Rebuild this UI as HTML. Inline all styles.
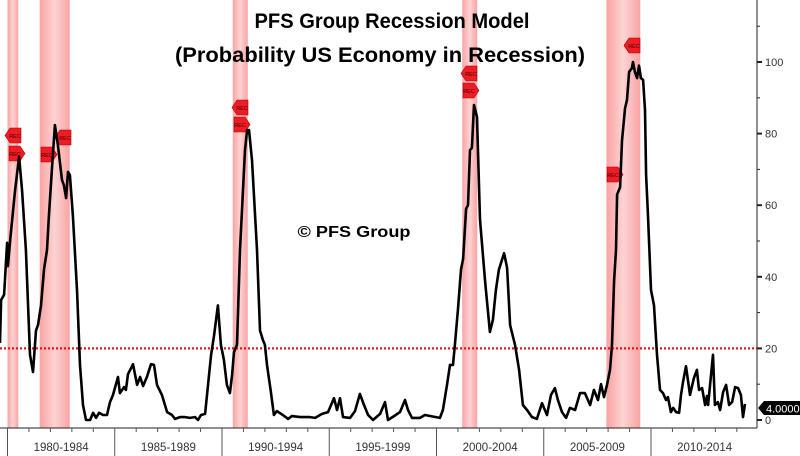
<!DOCTYPE html>
<html><head><meta charset="utf-8"><style>
html,body{margin:0;padding:0;background:#fff;}
svg{display:block;font-family:"Liberation Sans",sans-serif;}
</style></head><body>
<svg id="chart" width="800" height="456" viewBox="0 0 800 456">
<defs>
<linearGradient id="band" x1="0" x2="1" y1="0" y2="0">
<stop offset="0" stop-color="#f9a3a3"/><stop offset="0.5" stop-color="#fdd3d3"/><stop offset="1" stop-color="#f9a3a3"/>
</linearGradient>
</defs>
<g id="bands"></g>
<g id="axes"></g>
<line x1="0" x2="757" y1="348.4" y2="348.4" stroke="#e8141a" stroke-width="2.2" stroke-dasharray="2,2"/>
<g id="flags"></g>
<path id="series" fill="none" stroke="#000" stroke-width="2.6" stroke-linejoin="round"/>
<text x="392" y="28" text-anchor="middle" font-size="21" font-weight="bold" textLength="275" lengthAdjust="spacingAndGlyphs">PFS Group Recession Model</text>
<text x="380" y="62" text-anchor="middle" font-size="21" font-weight="bold" textLength="410" lengthAdjust="spacingAndGlyphs">(Probability US Economy in Recession)</text>
<text x="354" y="237" text-anchor="middle" font-size="16" font-weight="bold" textLength="113" lengthAdjust="spacingAndGlyphs">© PFS Group</text>
<g>
<polygon points="758,408 764,401 800,401 800,415 764,415" fill="#000"/>
<text x="766" y="412.5" font-size="11" fill="#fff">4.0000</text>
</g>
</svg>
<script>
const dates = [1979.65,1979.70,1979.84,1979.98,1980.02,1980.12,1980.35,1980.54,1980.68,1980.86,1981.05,1981.19,1981.33,1981.42,1981.56,1981.70,1981.84,1981.93,1982.07,1982.21,1982.35,1982.54,1982.63,1982.73,1982.82,1982.91,1983.05,1983.24,1983.38,1983.52,1983.66,1983.85,1983.99,1984.13,1984.27,1984.45,1984.64,1984.78,1984.92,1985.15,1985.24,1985.43,1985.52,1985.62,1985.85,1986.04,1986.18,1986.32,1986.50,1986.69,1986.83,1986.97,1987.20,1987.44,1987.67,1987.81,1988.04,1988.27,1988.51,1988.74,1988.88,1989.02,1989.21,1989.35,1989.49,1989.63,1989.81,1989.95,1990.09,1990.23,1990.37,1990.47,1990.56,1990.70,1990.84,1991.07,1991.17,1991.26,1991.40,1991.63,1991.77,1991.91,1992.00,1992.10,1992.28,1992.42,1992.56,1992.84,1993.08,1993.26,1993.64,1994.10,1994.34,1994.66,1994.94,1995.22,1995.36,1995.50,1995.64,1995.97,1996.20,1996.43,1996.62,1996.81,1997.04,1997.37,1997.60,1997.74,1998.02,1998.30,1998.53,1998.67,1998.86,1999.23,1999.46,2000.16,2000.30,2000.49,2000.63,2000.77,2000.86,2001.00,2001.14,2001.24,2001.38,2001.47,2001.56,2001.65,2001.75,2001.89,2002.03,2002.26,2002.49,2002.63,2002.77,2002.91,2003.15,2003.29,2003.43,2003.66,2003.85,2004.03,2004.22,2004.45,2004.68,2004.92,2005.15,2005.34,2005.52,2005.66,2005.85,2006.04,2006.22,2006.46,2006.69,2006.92,2007.16,2007.34,2007.53,2007.67,2007.81,2007.95,2008.09,2008.18,2008.28,2008.37,2008.42,2008.56,2008.65,2008.79,2008.88,2008.98,2009.11,2009.16,2009.25,2009.35,2009.44,2009.53,2009.63,2009.72,2009.77,2009.86,2010.00,2010.14,2010.28,2010.42,2010.56,2010.70,2010.79,2010.93,2011.03,2011.17,2011.31,2011.40,2011.49,2011.63,2011.82,2012.00,2012.14,2012.24,2012.38,2012.52,2012.61,2012.66,2012.89,2012.98,2013.12,2013.22,2013.36,2013.50,2013.64,2013.78,2013.92,2014.06,2014.19,2014.29,2014.38];
const probs = [21.5,33.5,35,49.5,43,50,64,73.5,64,47.5,18.2,13.4,25,26.5,32,42,47.5,57,70,82.4,76.8,67,65.6,62,69.3,68.4,57,36.3,15.4,4.2,0,0,2,0.6,2,1.4,1.4,5,7,12,7.5,9.2,8.4,12.8,15.6,9.8,12,9.5,12,15.6,15.4,9.8,7,2.2,1.4,0.3,0.8,0.8,0.6,0.8,0,1.4,1.7,10,18.2,23.7,32,21,16.8,9.8,7.5,12.6,19,21,47.5,75.4,81,81,72.6,47.5,25,22.3,21,15.4,7.8,1.4,2.5,1.4,0.3,1.1,0.8,0.8,0.6,1.7,2.2,6.1,2.8,6.1,0.8,0.6,2.5,7.3,4.2,1.4,0,1.7,5,0,1.1,2.2,5.6,2.8,0.6,0.6,1.4,0.6,2.8,9.8,15.4,15.4,21,30.7,42,45,59,60,75.4,76,88,84.6,56,39,24.6,28,36.3,42,46.6,42.5,26.5,21,14,4.2,2.8,0.8,0.3,4.7,1.4,7,8.9,5.6,2.2,0.6,3.4,2.8,7.5,7.5,4.2,8.4,5.6,10,6.4,9.8,14,21,39,47.5,63,65,78,87,89.4,97.2,98.3,100,97.2,95.5,99,95.5,95,86.6,68.4,57,36.3,32,18.2,8.4,7.5,5.6,6.4,2.2,3.4,2.2,2,7,10.6,15,7,11.7,14,8.4,8.9,4.2,6.7,4.2,18.2,4.2,5,2.8,7.8,9.8,4.2,5,9.2,8.9,7,0.8,4.5];
const recStarts = [1980.0,1981.5,1990.5,2001.2,2007.92];
const recEnds = [1980.5,1982.9,1991.2,2001.9,2009.5];
const yTicks = [0,10,20,30,40,50,60,70,80,90,100,110];
const yLabels = ["0","","20","","40","","60","","80","","100",""];
const periodLabels = ["1980-1984","1985-1989","1990-1994","1995-1999","2000-2004","2005-2009","2010-2014"];
const periodStarts = [1980,1985,1990,1995,2000,2005,2010];

const NS="http://www.w3.org/2000/svg";
const x = t => 7.5 + (t-1980)*21.45;
const y = v => 420 - v*3.58;
function mk(tag, attrs, parent){const e=document.createElementNS(NS,tag);for(const k in attrs)e.setAttribute(k,attrs[k]);parent.appendChild(e);return e;}

const bands=document.getElementById('bands');
recStarts.forEach((s,i)=>{
  const r=mk('rect',{x:x(s),y:0,width:x(recEnds[i])-x(s),height:428,fill:'url(#band)'},bands);
  
  
});

const ax=document.getElementById('axes');
const yl=mk('line',{x1:757,x2:757,y1:0,y2:428,stroke:'#222','stroke-width':1},ax);


const xl=mk('line',{x1:0,x2:757,y1:428,y2:428,stroke:'#222','stroke-width':1},ax);


yTicks.forEach((v,i)=>{
  mk('line',{x1:757,x2:yLabels[i]?762:760,y1:y(v),y2:y(v),stroke:'#222','stroke-width':yLabels[i]?2:1},ax);
  if(yLabels[i]){
    const t=mk('text',{x:765,y:y(v)+4,'font-size':11,fill:'#333'},ax);
    t.textContent=yLabels[i];
    
    
  }
});
for(let yr=1980;yr<2015;yr++){
  mk('line',{x1:x(yr),x2:x(yr),y1:428,y2:yr%5===0?456:432,stroke:'#555','stroke-width':1},ax);
}
periodLabels.forEach((l,i)=>{
  const t=mk('text',{x:(x(periodStarts[i])+x(periodStarts[i]+5))/2,y:451,'text-anchor':'middle','font-size':11.5,fill:'#333'},ax);
  t.textContent=l;
  
  
});

let d='';
dates.forEach((t,i)=>{d+=(i?'L':'M')+x(t).toFixed(1)+','+y(probs[i]).toFixed(1);});
document.getElementById('series').setAttribute('d',d);

// REC flags
const flags=document.getElementById('flags');
const flagDefs=[[5,128,-1],[9,146,1],[41,147,1],[55,130,-1],[232,100,-1],[234,117,1],[461,66,-1],[463,83,1],[607,167,1],[624,38,-1]];
flagDefs.forEach(f=>{
  const [fx,fy,dir]=f, w=16,h=15;
  const pts = dir>0 ? `${fx},${fy} ${fx+w-5},${fy} ${fx+w},${fy+h/2} ${fx+w-5},${fy+h} ${fx},${fy+h}`
                    : `${fx+5},${fy} ${fx+w},${fy} ${fx+w},${fy+h} ${fx+5},${fy+h} ${fx},${fy+h/2}`;
  const g=mk('g',{},flags);
  
  
  mk('polygon',{points:pts,fill:'#ee1c24',stroke:'#a00','stroke-width':0.6},g);
  const t=mk('text',{x:fx+(dir>0?6:10),y:fy+10,'text-anchor':'middle','font-size':5.5,fill:'#400'},g);
  t.textContent='REC';
});
</script>
</body></html>
